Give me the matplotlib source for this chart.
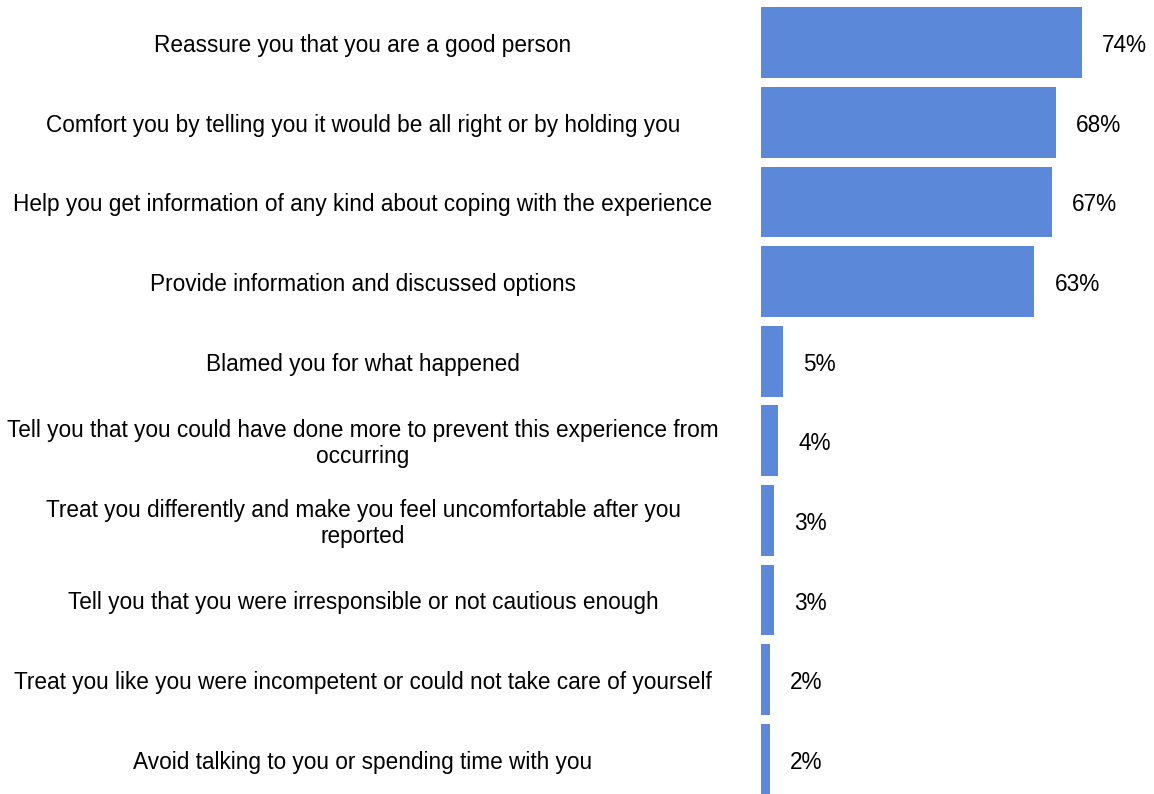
import matplotlib
matplotlib.use("Agg")
import matplotlib.pyplot as plt
from matplotlib.transforms import blended_transform_factory

categories = [
    "Reassure you that you are a good person",
    "Comfort you by telling you it would be all right or by holding you",
    "Help you get information of any kind about coping with the experience",
    "Provide information and discussed options",
    "Blamed you for what happened",
    "Tell you that you could have done more to prevent this experience from\noccurring",
    "Treat you differently and make you feel uncomfortable after you\nreported",
    "Tell you that you were irresponsible or not cautious enough",
    "Treat you like you were incompetent or could not take care of yourself",
    "Avoid talking to you or spending time with you",
]
values = [74, 68, 67, 63, 5, 4, 3, 3, 2, 2]

W, H, DPI = 1154, 794, 100
fig = plt.figure(figsize=(W / DPI, H / DPI), dpi=DPI)
ax = fig.add_axes([761 / W, -5 / H, (W - 761) / W, 796 / H])

bar_color = "#5B88D8"
ypos = list(range(len(values)))
ax.barh(ypos, values, height=0.89, color=bar_color)
ax.set_xlim(0, (W - 761) / 4.34)
ax.set_ylim(len(values) - 0.5, -0.5)
ax.axis("off")

font = ["Liberation Sans", "DejaVu Sans"]
for y, v in zip(ypos, values):
    ax.annotate(f"{v}%", xy=(v, y), xytext=(20, -3), textcoords="offset pixels",
                ha="left", va="center", fontsize=16.3, family=font, color="#000000")

trans = blended_transform_factory(fig.transFigure, ax.transData)
for y, label in zip(ypos, categories):
    ax.annotate(label, xy=(363 / W, y), xycoords=trans, xytext=(0, -3),
                textcoords="offset pixels", ha="center", va="center",
                fontsize=16.3, family=font, color="#000000", linespacing=1.15)

fig.savefig("out.png", dpi=DPI)
